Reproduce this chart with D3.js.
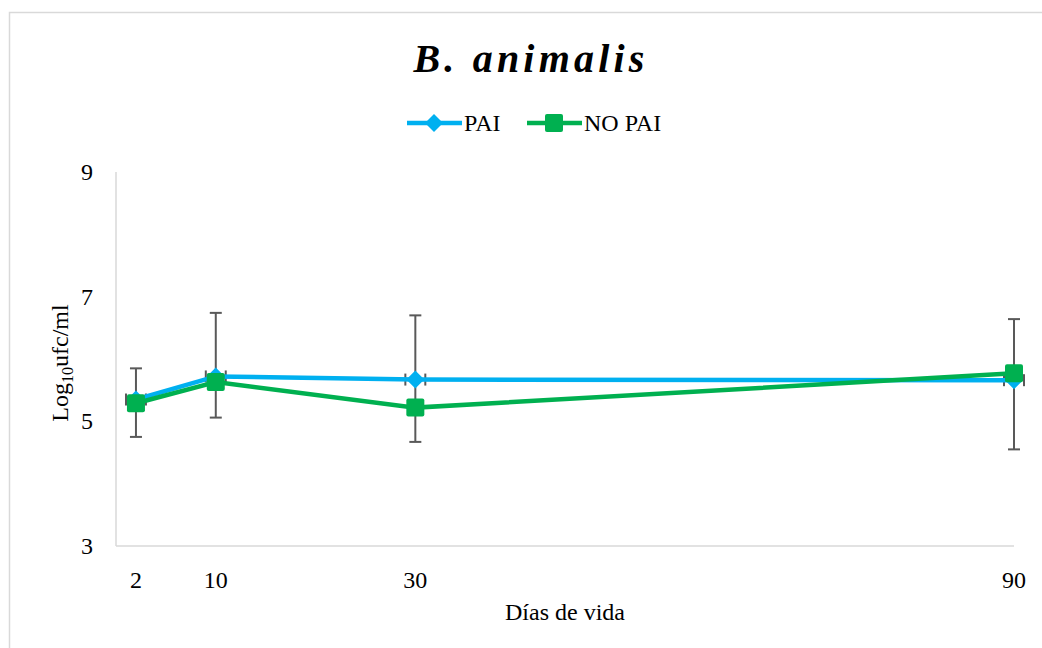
<!DOCTYPE html>
<html>
<head>
<meta charset="utf-8">
<script src="https://cdn.jsdelivr.net/npm/d3@7"></script>
<style>
  body { margin: 0; background: #fff; }
  svg { display: block; font-family: "Liberation Serif", "Times New Roman", serif; }
</style>
</head>
<body>
<svg id="chart" width="1042" height="648"></svg>
<script>
// days of life and the two series
var days = [2, 10, 30, 90];
var pai = [5.35, 5.72, 5.67, 5.66];
var noPai = [5.29, 5.63, 5.22, 5.77];
// vertical error bar ends (one bar per day)
var errLow = [4.75, 5.06, 4.67, 4.55];
var errHigh = [5.85, 6.74, 6.70, 6.64];
var xErr = 1; // small horizontal error on PAI, in days
var yTicks = [3, 5, 7, 9];
var xTicks = [2, 10, 30, 90];

var svg = d3.select('#chart');
var w = 1042, h = 648;
var margin = {left: 116, right: 28, top: 172, bottom: 102};

var x = d3.scaleLinear().domain([0, 90]).range([margin.left, w - margin.right]);
var y = d3.scaleLinear().domain([3, 9]).range([h - margin.bottom, margin.top]);

// outer chart border
svg.append('rect')
  .attr('x', 9.5).attr('y', 12.5)
  .attr('width', 1040).attr('height', 660)
  .attr('fill', 'none').attr('stroke', '#d9d9d9').attr('stroke-width', 1.5);

// title
svg.append('text')
  .attr('x', 531).attr('y', 72)
  .attr('text-anchor', 'middle')
  .attr('font-size', '40px')
  .attr('font-weight', 'bold')
  .attr('font-style', 'italic')
  .attr('letter-spacing', '4.2px')
  .text('B. animalis');

// axes lines
svg.append('line')
  .attr('x1', x(0)).attr('x2', x(0))
  .attr('y1', y(9)).attr('y2', y(3))
  .attr('stroke', '#d9d9d9').attr('stroke-width', 1.5);
svg.append('line')
  .attr('x1', x(0)).attr('x2', x(90))
  .attr('y1', y(3)).attr('y2', y(3))
  .attr('stroke', '#d9d9d9').attr('stroke-width', 1.5);

// y tick labels
svg.selectAll('.ytick')
  .data(yTicks)
  .join('text')
  .attr('class', 'ytick')
  .attr('x', 93)
  .attr('y', function(d) { return y(d); })
  .attr('dy', '0.33em')
  .attr('text-anchor', 'end')
  .attr('font-size', '24px')
  .text(function(d) { return d; });

// x tick labels
svg.selectAll('.xtick')
  .data(xTicks)
  .join('text')
  .attr('class', 'xtick')
  .attr('x', function(d) { return x(d); })
  .attr('y', 588)
  .attr('text-anchor', 'middle')
  .attr('font-size', '24px')
  .text(function(d) { return d; });

// axis titles
svg.append('text')
  .attr('x', (x(0) + x(90)) / 2).attr('y', 620)
  .attr('text-anchor', 'middle')
  .attr('font-size', '24px')
  .text('Días de vida');

var yt = svg.append('text')
  .attr('transform', 'translate(68,' + ((y(3) + y(9)) / 2 + 4) + ') rotate(-90)')
  .attr('text-anchor', 'middle')
  .attr('font-size', '24px');
yt.append('tspan').text('Log');
yt.append('tspan').attr('font-size', '16px').attr('dy', 5).text('10');
yt.append('tspan').attr('dy', -5).text('ufc/ml');

// vertical error bars
var errColor = '#595959';
var eb = svg.append('g');
days.forEach(function(d, i) {
  eb.append('line')
    .attr('x1', x(d)).attr('x2', x(d))
    .attr('y1', y(errLow[i])).attr('y2', y(errHigh[i]))
    .attr('stroke', errColor).attr('stroke-width', 2);
  [errLow[i], errHigh[i]].forEach(function(v) {
    eb.append('line')
      .attr('x1', x(d) - 6).attr('x2', x(d) + 6)
      .attr('y1', y(v)).attr('y2', y(v))
      .attr('stroke', errColor).attr('stroke-width', 2);
  });
  // small horizontal error caps on PAI
  [d - xErr, d + xErr].forEach(function(v) {
    eb.append('line')
      .attr('x1', x(v)).attr('x2', x(v))
      .attr('y1', y(pai[i]) - 6).attr('y2', y(pai[i]) + 6)
      .attr('stroke', errColor).attr('stroke-width', 2);
  });
});

var line = d3.line()
  .x(function(d) { return x(d[0]); })
  .y(function(d) { return y(d[1]); });

var blue = '#00b0f0', green = '#00b050';

svg.append('path')
  .datum(d3.zip(days, pai))
  .attr('d', line)
  .attr('fill', 'none').attr('stroke', blue).attr('stroke-width', 4.5);

svg.selectAll('.pai')
  .data(d3.zip(days, pai))
  .join('path')
  .attr('class', 'pai')
  .attr('transform', function(d) { return 'translate(' + x(d[0]) + ',' + y(d[1]) + ')'; })
  .attr('d', 'M0,-9L9,0L0,9L-9,0Z')
  .attr('fill', blue);

svg.append('path')
  .datum(d3.zip(days, noPai))
  .attr('d', line)
  .attr('fill', 'none').attr('stroke', green).attr('stroke-width', 4.5);

svg.selectAll('.nopai')
  .data(d3.zip(days, noPai))
  .join('rect')
  .attr('class', 'nopai')
  .attr('x', function(d) { return x(d[0]) - 9; })
  .attr('y', function(d) { return y(d[1]) - 9; })
  .attr('width', 18).attr('height', 18)
  .attr('rx', 2)
  .attr('fill', green);

// legend
var legend = svg.append('g').attr('transform', 'translate(0,123)');
var items = [
  {name: 'PAI', color: blue, x0: 407, shape: 'diamond'},
  {name: 'NO PAI', color: green, x0: 527, shape: 'square'}
];
items.forEach(function(it) {
  var g = legend.append('g').attr('transform', 'translate(' + it.x0 + ',0)');
  g.append('line').attr('x1', 0).attr('x2', 55).attr('y1', 0).attr('y2', 0)
    .attr('stroke', it.color).attr('stroke-width', 4.5);
  if (it.shape === 'diamond') {
    g.append('path').attr('d', 'M27,-9L36,0L27,9L18,0Z').attr('fill', it.color);
  } else {
    g.append('rect').attr('x', 18).attr('y', -9).attr('width', 18).attr('height', 18)
      .attr('rx', 2).attr('fill', it.color);
  }
  g.append('text').attr('x', 57).attr('y', 0).attr('dy', '0.33em')
    .attr('font-size', '24px').text(it.name);
});
</script>
</body>
</html>
